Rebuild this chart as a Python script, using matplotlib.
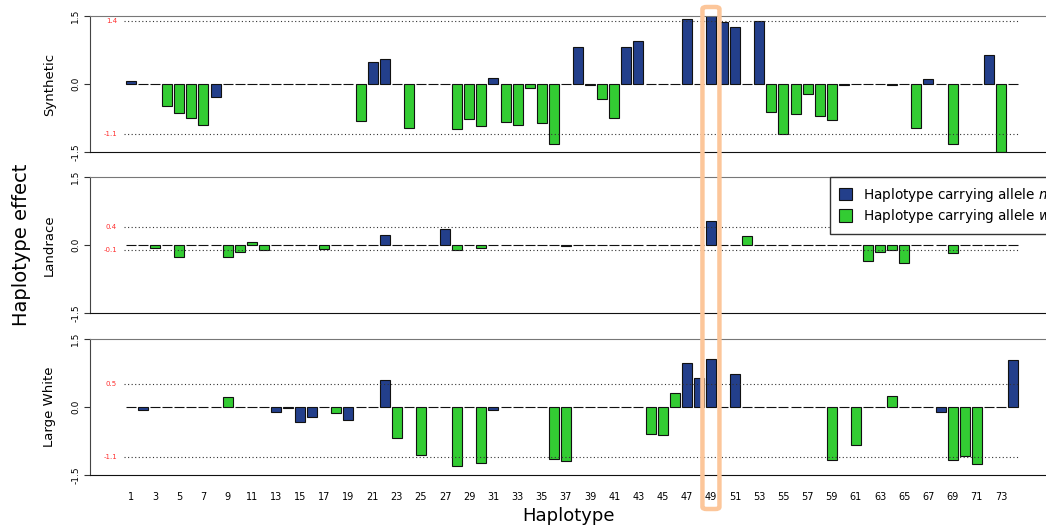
import matplotlib
matplotlib.use("Agg")
import matplotlib.pyplot as plt
import numpy as np
from matplotlib.patches import FancyBboxPatch, Patch

# haplotype effects, haplotypes 1..74
synthetic = [0.07, 0, 0, -0.48, -0.64, -0.75, -0.90, -0.29, 0, 0,
             0, 0, 0, 0, 0, 0, 0, 0, 0, -0.82,
             0.49, 0.56, 0, -0.96, 0, 0, 0, -0.99, -0.77, -0.93,
             0.14, -0.84, -0.90, -0.09, -0.85, -1.32, 0, 0.82, -0.02, -0.34,
             -0.76, 0.81, 0.95, 0, 0, 0, 1.43, 0, 1.50, 1.36,
             1.26, 0, 1.39, -0.62, -1.10, -0.66, -0.22, -0.70, -0.80, -0.02,
             0, 0, 0, -0.03, 0, -0.97, 0.10, 0, -1.32, 0,
             0, 0.65, -1.49, 0]
landrace = [0, 0, -0.06, 0, -0.26, 0, 0, 0, -0.26, -0.16,
            0.06, -0.12, 0, 0, 0, 0, -0.08, 0, 0, 0,
            0, 0.21, 0, 0, 0, 0, 0.36, -0.10, 0, -0.07,
            0, 0, 0, 0, 0, 0, -0.02, 0, 0, 0,
            0, 0, 0, 0, 0, 0, 0, 0, 0.52, 0,
            0, 0.20, 0, 0, 0, 0, 0, 0, 0, 0,
            0, -0.35, -0.15, -0.10, -0.40, 0, 0, 0, -0.17, 0,
            0, 0, 0, 0]
large_white = [0, -0.06, 0, 0, 0, 0, 0, 0, 0.23, 0,
               0, 0, -0.10, -0.02, -0.34, -0.21, 0, -0.14, -0.28, 0,
               0, 0.60, -0.69, 0, -1.05, 0, 0, -1.31, 0, -1.23,
               -0.06, 0, 0, 0, 0, -1.15, -1.19, 0, 0, 0,
               0, 0, 0, -0.60, -0.62, 0.31, 0.97, 0.64, 1.05, 0,
               0.72, 0, 0, 0, 0, 0, 0, 0, -1.16, 0,
               -0.83, 0, 0, 0.24, 0, 0, 0, -0.10, -1.16, -1.07,
               -1.25, 0, 0, 1.04]

# haplotypes carrying allele m (rest carry w)
allele_m = [1, 2, 8, 13, 14, 15, 16, 19, 21, 22, 27, 31, 38, 39, 42, 43,
            47, 48, 49, 50, 51, 53, 60, 67, 68, 72, 74]

breeds = ["Synthetic", "Landrace", "Large White"]
ref_lines = [(1.4, -1.1), (0.4, -0.1), (0.5, -1.1)]
ref_labels = [("1.4", "-1.1"), ("0.4", "-0.1"), ("0.5", "-1.1")]
highlight = 49

blue = "#233f8b"
green = "#33cc33"

hap = np.arange(1, len(synthetic) + 1)
cols = [blue if h in allele_m else green for h in hap]

fig = plt.figure(figsize=(10.46, 5.27), dpi=100)
W, H = 1046, 527
x0 = 90 / W
tops = [16, 177, 339]
ph = 136

axes = []
for i, (name, vals) in enumerate(zip(breeds, [synthetic, landrace, large_white])):
    ax = fig.add_axes([x0, 1 - (tops[i] + ph) / H, 1 - x0, ph / H])
    ax.bar(hap, vals, width=0.83, color=cols, edgecolor="#111111", linewidth=0.8)
    ax.set_xlim(-2.39, 76.73)
    ax.set_ylim(-1.5, 1.5)
    for v, lab in zip(ref_lines[i], ref_labels[i]):
        ax.plot([0.45, 74.55], [v, v], ls=(0, (1, 2.2)), color="#333333", lw=0.8)
        ax.text(-0.15, v, lab, color="#ff3030", fontsize=5, ha="right", va="center")
    ax.set_yticks([-1.5, 0, 1.5])
    ax.set_yticklabels(["-1.5", "0.0", "1.5"], rotation=90, va="center", fontsize=6.5)
    ax.tick_params(axis="y", length=4, width=0.8, pad=3, color="#333333")
    ax.set_ylabel(name, fontsize=9.5, labelpad=11)
    ax.spines["right"].set_visible(False)
    ax.spines["top"].set_color("#777777")
    ax.spines["left"].set_color("#444444")
    ax.spines["bottom"].set_color("#111111")
    if i < 2:
        ax.set_xticks([])
    else:
        ax.set_xticks(hap[::2])
        ax.set_xticklabels([str(h) for h in hap[::2]], fontsize=7)
        ax.tick_params(axis="x", length=0, pad=12)
        ax.set_xlabel("Haplotype", fontsize=13, labelpad=4)
    axes.append(ax)

fig.text(22 / W, 1 - 245 / H, "Haplotype effect", rotation=90, fontsize=14,
         ha="center", va="center")

handles = [Patch(facecolor=blue, edgecolor="#111111", linewidth=0.8),
           Patch(facecolor=green, edgecolor="#111111", linewidth=0.8)]
fig.legend(handles, ["Haplotype carrying allele $\\mathit{m}$",
                     "Haplotype carrying allele $\\mathit{w}$"],
           loc="upper left", bbox_to_anchor=(830 / W, 1 - 177 / H),
           borderaxespad=0, fontsize=9.8, frameon=True, fancybox=False,
           edgecolor="#333333", framealpha=1, handlelength=1.0,
           handleheight=1.0, borderpad=0.65, labelspacing=0.25,
           handletextpad=0.8)

# highlight box around haplotype 49
hx = axes[0].transData.transform((highlight, 0))[0] / W
rect = FancyBboxPatch((hx - 8.5 / W, 1 - 509 / H), 17 / W, 502 / H,
                      boxstyle="round,pad=0,rounding_size=0.004",
                      transform=fig.transFigure, fill=False,
                      edgecolor="#fcc69a", linewidth=3.2, zorder=10)
fig.patches.append(rect)

fig.savefig("out.png", dpi=100)
